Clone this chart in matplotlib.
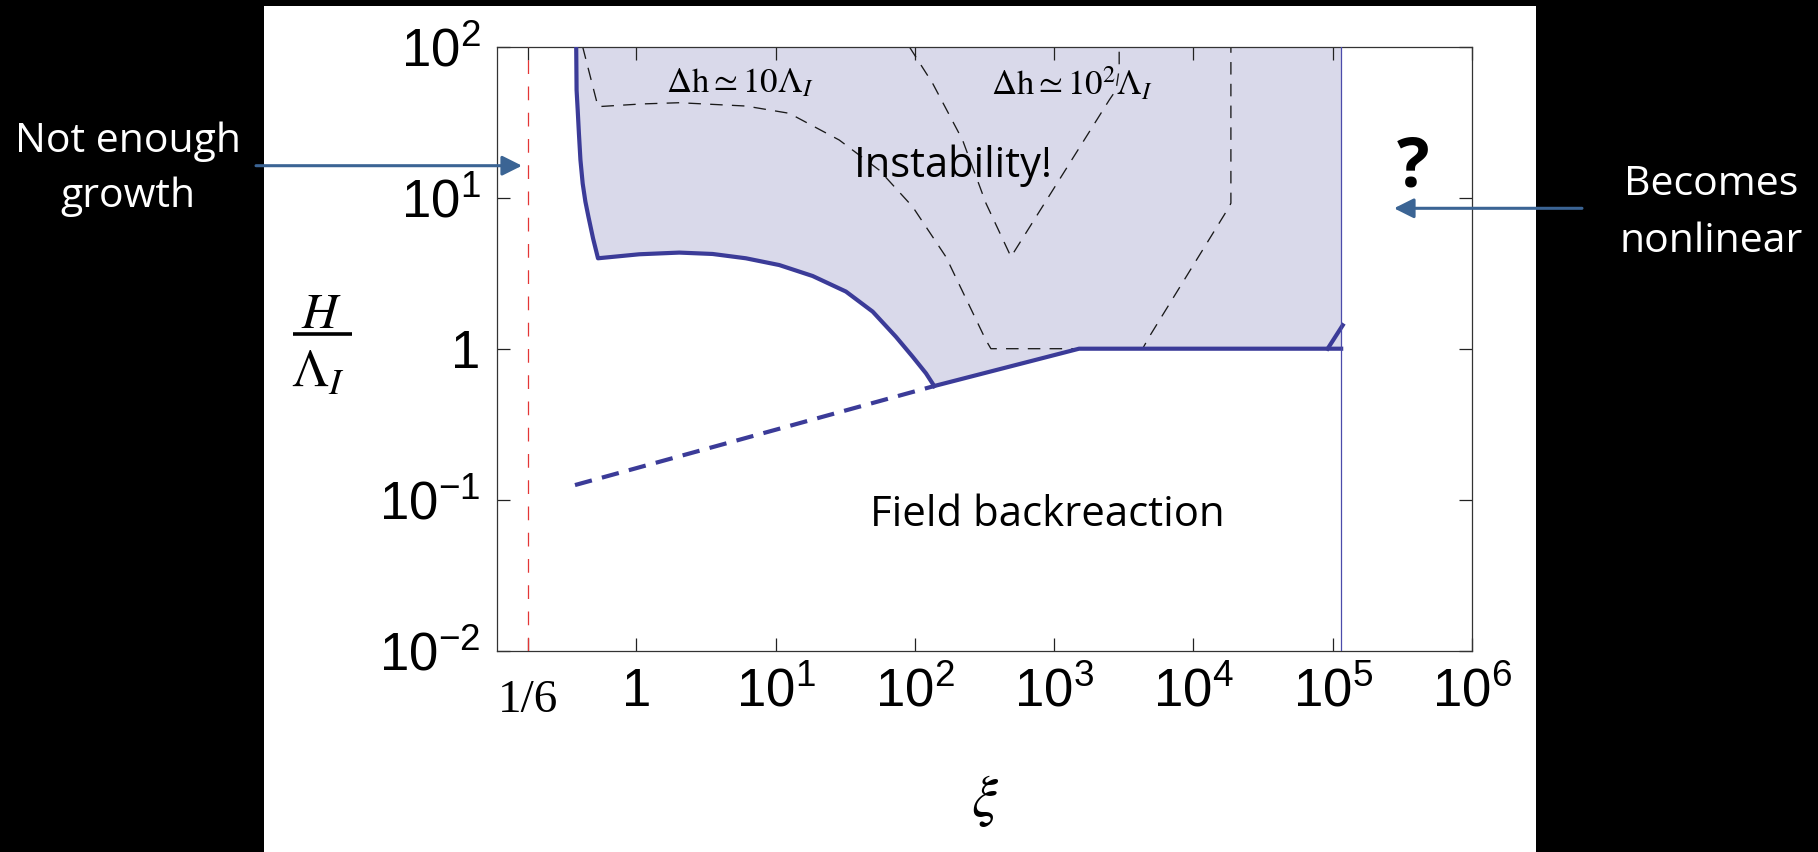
import numpy as np
import matplotlib
matplotlib.use("Agg")
import matplotlib.pyplot as plt
from matplotlib.patches import Rectangle
from matplotlib.ticker import NullLocator
from matplotlib.transforms import blended_transform_factory

plt.rcParams['font.family'] = ['Liberation Sans', 'DejaVu Sans']
plt.rcParams['mathtext.fontset'] = 'stix'

# ---------------- data ----------------
# instability boundary (solid, upper/left part)
bound_x = [0.3704, 0.3727, 0.3796, 0.3873, 0.3972, 0.4123, 0.4311, 0.4534, 0.4893, 0.531,
           1.05, 2.035, 3.53, 6.12, 10.64, 18.45, 32.0, 49.8, 73.1, 96.4, 120.2, 137.7]
bound_y = [100.0, 51.6, 38.1, 26.7, 17.8, 12.4, 9.42, 7.48, 5.38, 3.97,
           4.22, 4.33, 4.24, 3.97, 3.58, 3.03, 2.39, 1.76, 1.20, 0.885, 0.687, 0.566]
# lower boundary (solid): rising line then flat at 1
lower_x = [137.7, 1510.0, 1.15e5]
lower_y = [0.566, 1.0, 1.0]
# small rising tail near the right edge
tail_x = [9.2e4, 1.18e5]
tail_y = [1.0, 1.43]
# dashed blue continuation (field backreaction)
back_x = [0.363, 137.7]
back_y = [0.125, 0.566]
# vertical limits
nonlin_x = 1.15e5
growth_x = 1.0 / 6.0
# contour  Delta h ~ 10 Lambda_I
c10_x = [0.412, 0.531, 1.099, 2.037, 6.124, 12.53, 28.64, 55.46, 96.4, 167.1, 323.6, 351.6,
         4315.0, 4819.0, 18072.0, 18578.0, 18578.0]
c10_y = [100.0, 40.09, 41.78, 42.56, 40.46, 36.22, 24.10, 15.24, 8.71, 4.06, 1.14, 1.0,
         1.0, 1.2, 8.71, 9.2, 100.0]
# contour  Delta h ~ 10^2 Lambda_I
c100_x = [91.2, 134.0, 220.0, 324.0, 490.0, 2489.0, 2780.0, 2930.0, 2930.0]
c100_y = [100.0, 57.3, 24.1, 9.18, 4.06, 44.4, 51.6, 70.8, 100.0]

xtick_vals = [1/6, 1, 1e1, 1e2, 1e3, 1e4, 1e5, 1e6]
xtick_labels = ['', '1', r'$\mathregular{10^{1}}$', r'$\mathregular{10^{2}}$', r'$\mathregular{10^{3}}$',
                r'$\mathregular{10^{4}}$', r'$\mathregular{10^{5}}$', r'$\mathregular{10^{6}}$']
ytick_vals = [1e-2, 1e-1, 1, 1e1, 1e2]
ytick_labels = [r'$\mathregular{10^{-2}}$', r'$\mathregular{10^{-1}}$', '1',
                r'$\mathregular{10^{1}}$', r'$\mathregular{10^{2}}$']

# ---------------- styling ----------------
BLUE = '#3b3b98'
FILL = '#d9d9ea'
ARROW = '#3b6494'
W, H = 1818, 852

fig = plt.figure(figsize=(W / 100, H / 100), dpi=100, facecolor='black')
fig.add_artist(Rectangle((264 / W, 0), (1536 - 264) / W, (H - 6) / H,
                         transform=fig.transFigure, facecolor='white',
                         edgecolor='none', zorder=-10))

ax = fig.add_axes([497 / W, 1 - 650.7 / H, (1472 - 497) / W, 604 / H])
ax.set_xscale('log')
ax.set_yscale('log')
ax.set_xlim(0.1, 1e6)
ax.set_ylim(1e-2, 1e2)

# shaded instability region
poly_x = bound_x + lower_x[1:] + [nonlin_x]
poly_y = bound_y + lower_y[1:] + [bound_y[0]]
ax.fill(poly_x, poly_y, color=FILL, lw=0, zorder=1)

# contours
ax.plot(c10_x, c10_y, color='#1a1a1a', lw=0.95, dashes=(9.5, 7), zorder=2)
ax.plot(c100_x, c100_y, color='#1a1a1a', lw=0.95, dashes=(9.5, 7), zorder=2)

# boundaries
ax.plot(bound_x, bound_y, color=BLUE, lw=3.0, zorder=3, solid_joinstyle='round')
ax.plot(lower_x, lower_y, color=BLUE, lw=3.0, zorder=3)
ax.plot(tail_x, tail_y, color=BLUE, lw=3.0, zorder=3)
ax.plot(back_x, back_y, color=BLUE, lw=3.0, dashes=(4.2, 2.5), zorder=3)
ax.axvline(nonlin_x, color='#4b4bab', lw=0.9, zorder=3)
ax.axvline(growth_x, color='#e33636', lw=0.9, dashes=(11, 10), zorder=3)

# ticks
ax.set_xticks(xtick_vals)
ax.set_xticklabels(xtick_labels)
ax.set_yticks(ytick_vals)
ax.set_yticklabels(ytick_labels)
ax.xaxis.set_minor_locator(NullLocator())
ax.yaxis.set_minor_locator(NullLocator())
ax.tick_params(which='major', direction='in', length=9.4, width=0.9, color='#222222',
               top=True, right=True, labelsize=38)
ax.tick_params(axis='x', pad=12)
ax.tick_params(axis='y', pad=12)
for s in ax.spines.values():
    s.set_color('#333333')
    s.set_linewidth(0.9)

trans = blended_transform_factory(ax.transData, ax.transAxes)
ax.text(1 / 6, -(712 - 650.7) / 604, '1/6', transform=trans, ha='center', va='baseline',
        fontfamily='Liberation Serif', fontsize=34)

# in-plot annotations
ax.text(189, 13.8, 'Instability!', ha='center', va='baseline', fontfamily='Open Sans',
        fontsize=30, color='black', zorder=4)
ax.text(900, 0.067, 'Field backreaction', ha='center', va='baseline', fontfamily='Open Sans',
        fontsize=30.2, color='black', zorder=4)
ax.text(3.8e5, 11.8, '?', ha='center', va='baseline', fontfamily='Open Sans',
        fontweight='bold', fontsize=49, color='black', zorder=4)
ax.text(5.49, 49.8, r'$\Delta\mathrm{h} \simeq 10\Lambda_I$', ha='center', va='baseline',
        fontsize=25, math_fontfamily='stix', zorder=4)
ax.text(1337, 47.9, r'$\Delta\mathrm{h} \simeq 10^2\Lambda_I$', ha='center', va='baseline',
        fontsize=25, math_fontfamily='stix', zorder=4)

# overlay (pixel coordinates) for labels & arrows outside the axes
oax = fig.add_axes([0, 0, 1, 1], zorder=5)
oax.set_xlim(0, W)
oax.set_ylim(H, 0)
oax.axis('off')

oax.text(321, 328, r'$H$', ha='center', va='baseline', fontsize=36, math_fontfamily='stix')
oax.plot([293, 352], [333.5, 333.5], color='black', lw=2.6, solid_capstyle='butt')
oax.text(318, 388, r'$\Lambda_I$', ha='center', va='baseline', fontsize=38, math_fontfamily='stix')
oax.text(985, 801, r'$\xi$', ha='center', va='center', fontsize=42, math_fontfamily='stix')

oax.text(128, 151.7, 'Not enough', ha='center', va='baseline', color='white',
         fontfamily='Open Sans', fontsize=29.5)
oax.text(128, 206.7, 'growth', ha='center', va='baseline', color='white',
         fontfamily='Open Sans', fontsize=29.5)
oax.text(1711, 195, 'Becomes', ha='center', va='baseline', color='white',
         fontfamily='Open Sans', fontsize=29.5)
oax.text(1711, 251.7, 'nonlinear', ha='center', va='baseline', color='white',
         fontfamily='Open Sans', fontsize=29.5)

arrow_style = dict(arrowstyle='-|>,head_length=1.2,head_width=0.6', color=ARROW, lw=2.2,
                   shrinkA=0, shrinkB=0, mutation_scale=10)
oax.annotate('', xy=(522, 165.7), xytext=(256, 165.7), arrowprops=arrow_style)
oax.annotate('', xy=(1394, 208.3), xytext=(1582, 208.3), arrowprops=arrow_style)

fig.savefig('out.png', dpi=100, facecolor='black')
